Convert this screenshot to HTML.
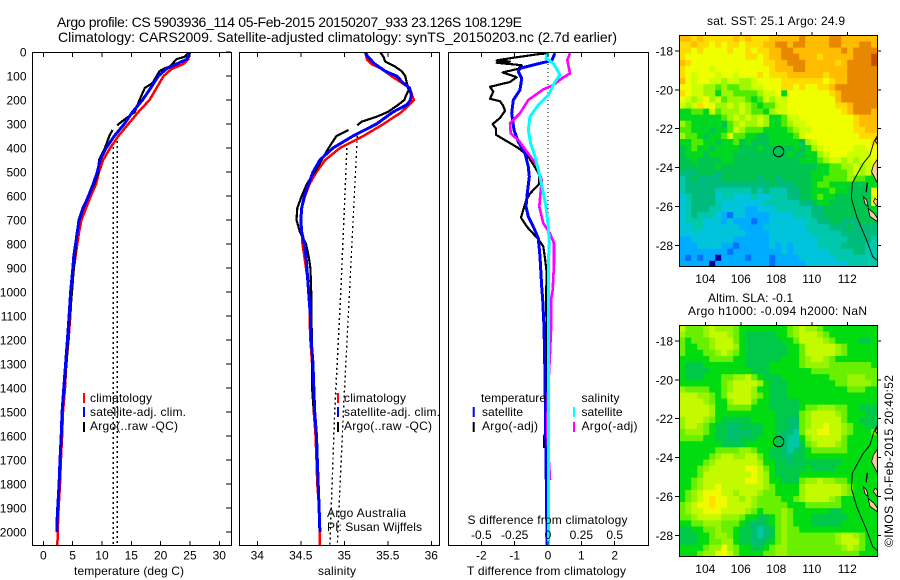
<!DOCTYPE html>
<html lang="en">
<head>
<meta charset="utf-8">
<title>Argo profile</title>
<style>
html,body{margin:0;padding:0;background:#fff;}
svg{display:block;font-family:"Liberation Sans",sans-serif;font-size:12px;fill:#000;}
</style>
</head>
<body>
<svg id="fig" width="900" height="580" viewBox="0 0 900 580" xmlns="http://www.w3.org/2000/svg">
<defs>
<clipPath id="c1"><rect x="32" y="52" width="199" height="493"/></clipPath>
<clipPath id="c2"><rect x="239" y="52" width="200" height="493"/></clipPath>
<clipPath id="c3"><rect x="448" y="52" width="200" height="493"/></clipPath>
<clipPath id="m1"><rect x="679" y="35" width="198" height="232"/></clipPath>
<clipPath id="m2"><rect x="679" y="325" width="198" height="232"/></clipPath>
</defs>
<g id="plots"></g>
<g id="labels">
<text x="57" y="27" font-size="14" textLength="465" lengthAdjust="spacing">Argo profile: CS 5903936_114 05-Feb-2015 20150207_933 23.126S 108.129E</text>
<text x="58" y="42" font-size="14" textLength="559" lengthAdjust="spacing">Climatology: CARS2009. Satellite-adjusted climatology: synTS_20150203.nc (2.7d earlier)</text>
<text x="74" y="575" textLength="110">temperature (deg C)</text>
<text x="318" y="575" textLength="38">salinity</text>
<text x="467" y="575" textLength="159">T difference from climatology</text>
<text x="467.5" y="524" textLength="160">S difference from climatology</text>
<text x="90" y="402" textLength="62">climatology</text>
<text x="90" y="416" textLength="96">satellite-adj. clim.</text>
<text x="90" y="430" textLength="88">Argo(..raw -QC)</text>
<text x="344" y="402" textLength="62">climatology</text>
<text x="344" y="416" textLength="96">satellite-adj. clim.</text>
<text x="344" y="430" textLength="88">Argo(..raw -QC)</text>
<text x="327" y="517" textLength="79">Argo Australia</text>
<text x="327" y="531" textLength="95">PI: Susan Wijffels</text>
<text x="481" y="402" textLength="65">temperature</text>
<text x="482" y="416" textLength="41">satellite</text>
<text x="482" y="430" textLength="56">Argo(-adj)</text>
<text x="581.5" y="402" textLength="38">salinity</text>
<text x="581.5" y="416" textLength="41">satellite</text>
<text x="581.5" y="430" textLength="56">Argo(-adj)</text>
<text x="707" y="25" textLength="138">sat. SST: 25.1 Argo: 24.9</text>
<text x="708" y="302" textLength="85">Altim. SLA: -0.1</text>
<text x="688" y="315" textLength="179">Argo h1000: -0.094 h2000: NaN</text>
<text transform="translate(893,547) rotate(-90)" textLength="172">©IMOS 10-Feb-2015 20:40:52</text>
</g>
</svg>
<script>
// Depth axis ticks and panel tick labels
const depthTicks = [0,100,200,300,400,500,600,700,800,900,1000,1100,1200,1300,1400,1500,1600,1700,1800,1900,2000];
const tempTicks = [0,5,10,15,20,25,30];
const salTicks = [34,34.5,35,35.5,36];
const tDiffTicks = [-2,-1,0,1,2];
const sDiffTicks = [-0.5,-0.25,0,0.25,0.5];
const lonTicks = [104,106,108,110,112];
const latTicks = [-18,-20,-22,-24,-26,-28];

// Temperature panel
const climDepth = [0,30,50,70,100,150,200,250,300,350,400,450,500,550,600,650,700,750,800,850,900,1000,1100,1200,1300,1400,1500,1600,1700,1800,1900,2000,2055];
const climTemp = [25,24.7,23.9,21.9,20.5,19.3,18.1,16.2,14.5,12.8,11.4,10.2,9.5,9,8.1,7.3,6.5,6.1,5.8,5.5,5.2,4.8,4.6,4.3,3.9,3.7,3.35,3.2,3,2.85,2.6,2.45,2.4];
const satTDepth = [0,30,50,70,100,150,200,250,300,350,400,450,500,550,600,650,700,750,800,850,900,1000,1100,1200,1300,1400,1500,1600,1700,1800,1900,1950,2000];
const satTemp = [24.9,24.5,22.7,21,19.6,18.3,16.9,15.2,13.8,12.1,10.7,9.7,9.2,8.5,7.7,6.8,6.1,5.8,5.5,5.2,5.05,4.65,4.4,4.1,3.8,3.5,3.2,3.05,2.85,2.7,2.45,2.35,2.35];
const argoTDepth = [0,20,30,60,70,80,130,150,200,250,280,305,null,325,350,400,450,500,550,600,650,700,750,800,900,1000,1100,1200,1300,1400,1500,1650];
const argoTemp = [24.9,24.1,22.7,21.6,20.5,19.8,18.6,17.3,16.4,15.6,13.9,12.6,null,11.8,11.25,10.5,9.5,9.4,8.7,7.7,6.7,6,5.8,5.6,5.2,4.9,4.5,4.25,3.95,3.6,3.25,2.95];
const isoDepth = [375,2055];
const tDotA = [11.9,11.9];
const isoDepthB = [350,2055];
const tDotB = [12.6,12.6];

// Salinity panel
const climSal = [35.24,35.26,35.31,35.43,35.54,35.75,35.8,35.66,35.45,35.22,34.95,34.78,34.68,34.6,34.55,34.51,34.5,34.51,34.52,34.54,34.56,34.6,34.6,34.61,34.63,34.64,34.65,34.67,34.68,34.69,34.71,34.72,34.72];
const satSDepth = [0,20,50,80,100,130,150,180,200,220,250,300,350,400,450,500,550,600,650,700,750,800,850,900,1000,1100,1200,1300,1400,1500,1600,1700,1800,1900,2000];
const satSal = [35.24,35.27,35.35,35.47,35.6,35.68,35.75,35.77,35.76,35.72,35.56,35.37,35.1,34.87,34.72,34.64,34.59,34.54,34.51,34.5,34.51,34.54,34.56,34.57,34.59,34.61,34.62,34.64,34.65,34.66,34.68,34.69,34.7,34.71,34.72];
const argoSDepth = [0,20,40,60,80,100,130,160,180,200,220,250,270,290,305,null,325,350,400,450,500,550,600,650,700,750,800,850,900,1000,1100,1200,1300,1400,1500];
const argoSal = [35.41,35.45,35.47,35.58,35.66,35.7,35.72,35.74,35.71,35.69,35.62,35.5,35.37,35.2,35.15,null,35.05,34.91,34.82,34.74,34.66,34.57,34.51,34.46,34.45,34.49,34.56,34.59,34.61,34.62,34.62,34.63,34.63,34.63,34.65];
const sDotDepthA = [400,1000,1500,2055];
const sDotA = [35.03,34.96,34.89,34.835];
const sDotDepthB = [350,1000,1500,2055];
const sDotB = [35.15,35.06,34.99,34.92];

// Difference panel
const dArgoTDepth = [5,10,25,35,40,45,55,70,85,105,125,145,165,195,205,225,245,275,300,320,345,400,430,480,510,550,590,620,690,730,780,810,860,920,1030,1172,1580,1600,1650];
const dArgoT = [0,-0.34,-1.09,-1.54,-1.14,-1.54,-0.79,-0.89,-1.36,-0.94,-1.14,-1.74,-1.64,-1.74,-1.44,-1.34,-1.29,-1.44,-1.66,-1.56,-1.56,-0.89,-0.62,-0.39,-0.27,-0.27,-0.54,-0.66,-0.81,-0.62,-0.29,-0.14,-0.09,-0.04,-0.06,-0.04,-0.06,-0.11,-0.11];
const dSatTDepth = [5,36,47,68,82,110,158,200,255,325,374,422,478,519,589,644,686,728,776,853,978,1033,1144,1352,1700,1922,2055];
const dSatT = [0.21,0.11,-0.24,-0.84,-0.89,-0.79,-0.84,-1.04,-1.09,-1.02,-0.89,-0.69,-0.59,-0.56,-0.62,-0.66,-0.59,-0.44,-0.29,-0.24,-0.19,-0.16,-0.12,-0.09,-0.06,-0.04,-0.03];
const dSatSDepth = [5,26,47,75,96,124,179,221,269,325,381,436,506,575,644,728,797,881,1033,2055];
const dSatS = [0.0025,-0.015,0.04,0.07,0.09,0.0525,0.0025,-0.0725,-0.135,-0.1475,-0.13,-0.0975,-0.065,-0.04,-0.015,0.0025,0.01,0.0025,0.0025,0.0025];
const dArgoSDepth = [5,33,89,110,138,156,200,255,297,339,367,422,471,533,644,714,756,797,881,992,1033,1158,1255,1450,1589,1783];
const dArgoS = [0.165,0.145,0.165,0.1025,0.04,-0.035,-0.1475,-0.21,-0.285,-0.28,-0.2225,-0.15,-0.085,-0.0475,-0.065,-0.035,0.015,0.045,0.045,0.035,0.0225,0.0225,0.015,-0.0025,-0.005,0.015];
const zeroDepth = [0,2055];
const zeroLine = [0,0];

// Map value levels: one character per cell, north to south, west to east
const sstRows = [
"ddcdcccccdcdcccdddddeddddeedddddd",
"ccdccbcbccbcccddeedeeddddeedddeed",
"ccbcbbbbcbbcbccddeeddddddddedeeee",
"cbbbbbbbbbbccbcddeeedddcdddddeeef",
"dcbbbbbbbbbbbbccddeeedddddcdeeeef",
"cbbbbabbbbbbbbbcdddeedddddddeeeee",
"cbabbbabbabbbcbcccddddddcdddeeeee",
"dbabbaa9aa99abbbbcccccccbcddeeeee",
"bbaa99898899aabbbccbcbbccdeeeeeee",
"cbaa9979988889aab7bbbbbbbcdeeeeee",
"ba9ab9a8999878a9aabbbbbbbbdeeeeee",
"a9acbb99a9a98788aabbbbbbbbccdeeee",
"77887a8999a98879aabbbbbbbbbcdeeed",
"777777789a9a9a9778aabbbbbbbbbcddd",
"9877777689a99a97789aabbbbbbbbcddd",
"887776778a9888777789aabbbbbbbccdd",
"98876778a88776677778abbbbbbbbbccc",
"7788776778676667777769abbbbbbbbbc",
"67877677776667666667679abbbbbaabb",
"677767777666666666766779abbbaaaab",
"6676666776666666666677789aa9a9aab",
"66666676666666666666666778899a9aa",
"55566656666666666666667778889a9a7",
"456555566666656656666677888898877",
"455555555555555655566678877776677",
"45555544444454544455667778776666b",
"34555534433343344455667877666666b",
"34555543333333444444556776666666b",
"345554433332233344444455666666667",
"345444321332222333344455666666666",
"344433323222122333333445566555666",
"334433333322223333333444455565555",
"333333333332222333333344444555555",
"223333333222222333333334444455554",
"222333322122222323233334444555544",
"222222221222222223233333344445544",
"212122022221222122223333334444444",
"222220222222222122222333333344444"
];
const slaRows = [
"a8889a99987777777789a998777777777",
"98889aaa987666667789aaa9877777777",
"878889aaa87666666778aaaa987777667",
"877889aaa976666666778aaaaa9877777",
"8777889a9876666666778aaaaa9877777",
"777778888776666667778 9aa987777777",
"766677777776666777778999988888887",
"766667777777666777777788888888888",
"76667778899a87666777777778889998",
"777777789aaaa97666777777778899998",
"988887789aaa977666777777777788877",
"aaa99878aaaa987666777777777777777",
"aaaa98779aaa877666667777777777777",
"aaaaa97788887776666678899988 77666",
"aaaaa977777777776666 89aaaa9877766",
"9aaa987666667777665589aaaaa877666",
"9aa9876655666677665589aabaa987766",
"89998766555566776554 8aabbaa987778",
"88887766556667776544 79aaaaa877777",
"77777776666777776544 689aaa9877777",
"777777888899877665456788888877777",
"7777789aa99aa87665566777777777777",
"777789aaaaaaa97766566666666777777",
"77789aaaaaabba8766666766667777777",
"7778aaaaaaaaba9766667777777777777",
"7789aaaaaaabba977666899a998877777",
"7789aabaaaaaaa9877779aaaaaa987777",
"789abbbaa9aaa98877779aaaaaa987777",
"789abcbbaa9a98888778 9aaaa9877777",
"89abbcbbaaaa98888877 788888877777",
"89aabbbaaaa9878889877777766777777",
"889aaaa999877667898777666666 77777",
"7788999888765567898777666667 77777",
"667788988766545689887777777777777",
"666778998766545689888888889aa9877",
"666778899766556789888888889aaa877",
"7777899b98776678998888888889a9877",
"777899bba877778899888888888888777"
].map(r => r.split(" ").join(""));
const sstPalette = {"0":"#0000a0","1":"#0070ff","2":"#00acff","3":"#00c4dc","4":"#00c8ac","5":"#00bc7c","6":"#00c450","7":"#00d820","8":"#50ec00","9":"#a0f800","a":"#ccff00","b":"#f0ff00","c":"#ffdc00","d":"#ffbc00","e":"#e88800","f":"#c85000"};
const slaPalette = {"0":"#0000a0","1":"#0070ff","2":"#00acff","3":"#00c4dc","4":"#00c8a0","5":"#00c070","6":"#00c848","7":"#00dc10","8":"#68f000","9":"#98f400","a":"#c4fa00","b":"#f0fa00","c":"#ffe000","d":"#ffbc00","e":"#e88800","f":"#c85000"};

// Geography
const shelfLon = [113.69,113.5,113.28,112.9,112.53,112.28,112.23,112.53,113.09,113.43,113.69];
const shelfLat = [-22.37,-22.67,-23.35,-23.78,-24.38,-24.81,-25.58,-26.53,-27.73,-28.58,-28.79];
const landLons = [[113.69,113.47,113.37,113.65,113.69],[113.69,113.56,113.69],[113.56,113.69,113.69,113.47],[112.9,113.09,113.18,113],[113.18,113.5,113.69,113.69,113.28]];
const landLats = [[-23.57,-23.87,-24.21,-24.72,-24.78],[-22.49,-22.61,-22.79],[-25.58,-25.67,-26.01,-25.75],[-25.5,-25.67,-26.01,-25.87],[-26.1,-26.35,-26.6,-26.78,-26.52]];
const sliverLon = [113.09,113.18,113.09,113.03];
const sliverLat = [-24.78,-24.78,-25.29,-25.24];
const floatLon = [108.129];
const floatLat = [-23.126];

const NS = "http://www.w3.org/2000/svg";
const plots = document.getElementById("plots");
function mk(parent, tag, attrs, name, txt) {
  const e = document.createElementNS(NS, tag);
  for (const k in attrs) e.setAttribute(k, attrs[k]);
  
  
  if (txt !== undefined) e.textContent = txt;
  parent.appendChild(e);
  return e;
}
const yDepth = d => 52 + d * 0.24;
const xTemp = t => 43.3 + t * 5.867;
const xSal = s => 257.3 + (s - 34) * 87;
const xTDiff = t => 548 + t * 33.33;
const xSDiff = s => 548 + s * 133.33;
const xLon = lon => 705.3 + (lon - 104) * 17.75;
const yLat = (lat, top) => top + 16 + (-18 - lat) * 19.43;

function profile(parent, depths, vals, xf, color, w, name, dash) {
  let seg = [];
  const flush = () => {
    if (seg.length > 1) {
      const a = {points: seg.join(" "), fill: "none", stroke: color, "stroke-width": w, "shape-rendering": "crispEdges", "stroke-linejoin": "round"};
      if (dash) a["stroke-dasharray"] = dash;
      mk(parent, "polyline", a, name);
    }
    seg = [];
  };
  depths.forEach((d, i) => {
    if (d === null) flush();
    else seg.push(xf(vals[i]).toFixed(1) + "," + yDepth(d).toFixed(1));
  });
  flush();
}
function frame(x, y, w, h, name) {
  mk(plots, "rect", {x: x, y: y, width: w, height: h, fill: "none", stroke: "#000", "stroke-width": 1.2, "shape-rendering": "crispEdges"}, name);
}
function vtick(x, y1, y2, name) {
  mk(plots, "line", {x1: x, x2: x, y1: y1, y2: y2, stroke: "#000", "stroke-width": 1, "shape-rendering": "crispEdges"}, name);
}
function htick(y, x1, x2, name) {
  mk(plots, "line", {x1: x1, x2: x2, y1: y, y2: y, stroke: "#000", "stroke-width": 1, "shape-rendering": "crispEdges"}, name);
}
function label(x, y, anchor, t, name) {
  mk(plots, "text", {x: x, y: y, "text-anchor": anchor}, name, t);
}

// Temperature panel
const g1 = mk(plots, "g", {"clip-path": "url(#c1)"}, "temperature-series");
profile(g1, isoDepth, tDotA, xTemp, "#000", 1.6, "temp-dotted-a", "2 3");
profile(g1, isoDepthB, tDotB, xTemp, "#000", 1.6, "temp-dotted-b", "2 3");
profile(g1, climDepth, climTemp, xTemp, "#ff0000", 2.5, "climatology-temperature-line");
profile(g1, argoTDepth, argoTemp, xTemp, "#000", 2.2, "argo-temperature-line");
profile(g1, satTDepth, satTemp, xTemp, "#0000ff", 3, "satellite-temperature-line");
frame(32.5, 52.5, 199, 493, "temperature-panel-frame");
depthTicks.forEach(d => {
  htick(yDepth(d), 226, 231, "depth-tick");
  label(26.5, yDepth(d) + 4.5, "end", String(d), "depth-tick-label");
});
tempTicks.forEach(t => {
  vtick(xTemp(t), 52, 57, "temperature-top-tick");
  vtick(xTemp(t), 541, 545, "temperature-bottom-tick");
  label(xTemp(t), 559.5, "middle", String(t), "temperature-tick-label");
});

// Salinity panel
const g2 = mk(plots, "g", {"clip-path": "url(#c2)"}, "salinity-series");
profile(g2, sDotDepthA, sDotA, xSal, "#000", 1.4, "sal-dotted-a", "2 3");
profile(g2, sDotDepthB, sDotB, xSal, "#000", 1.4, "sal-dotted-b", "2 3");
profile(g2, climDepth, climSal, xSal, "#ff0000", 2.5, "climatology-salinity-line");
profile(g2, argoSDepth, argoSal, xSal, "#000", 2.2, "argo-salinity-line");
profile(g2, satSDepth, satSal, xSal, "#0000ff", 3, "satellite-salinity-line");
frame(239.5, 52.5, 200, 493, "salinity-panel-frame");
salTicks.forEach(s => {
  vtick(xSal(s), 52, 57, "salinity-top-tick");
  vtick(xSal(s), 541, 545, "salinity-bottom-tick");
  label(xSal(s), 559.5, "middle", String(s), "salinity-tick-label");
});

// Difference panel
const g3 = mk(plots, "g", {"clip-path": "url(#c3)"}, "difference-series");
profile(g3, zeroDepth, zeroLine, xTDiff, "#000", 1, "zero-dotted-line", "1 3");
profile(g3, dArgoTDepth, dArgoT, xTDiff, "#000", 2.2, "argo-t-difference-line");
profile(g3, dSatTDepth, dSatT, xTDiff, "#0000ff", 3, "satellite-t-difference-line");
profile(g3, dArgoSDepth, dArgoS, xSDiff, "#ff00ff", 2.6, "argo-s-difference-line");
profile(g3, dSatSDepth, dSatS, xSDiff, "#00ffff", 3, "satellite-s-difference-line");
frame(448.5, 52.5, 200, 493, "difference-panel-frame");
tDiffTicks.forEach(t => {
  vtick(xTDiff(t), 52, 57, "t-difference-top-tick");
  vtick(xTDiff(t), 541, 545, "t-difference-bottom-tick");
  label(xTDiff(t), 559.5, "middle", String(t), "t-difference-tick-label");
});
sDiffTicks.forEach(s => {
  label(xSDiff(s), 539, "middle", String(s), "s-difference-tick-label");
});

// Legend bars
const legendBars = [[84,393,"#ff0000"],[84,407,"#0000ff"],[84,422,"#000"],[338,393,"#ff0000"],[338,407,"#0000ff"],[338,422,"#000"],[473.7,407,"#0000ff"],[473.7,422,"#000"],[574,407,"#00ffff"],[574,422,"#ff00ff"]];
legendBars.forEach(b => {
  mk(plots, "rect", {x: b[0] - 1, y: b[1], width: 2, height: 10, fill: b[2]}, "legend-swatch");
});

// Maps
function map(rows, palette, top, clip, name) {
  const g = mk(plots, "g", {"clip-path": "url(#" + clip + ")"}, name + "-cells");
  const dLon = 0.338, dLat = 0.3135, lon0 = 102.53, lat0 = -17.2;
  rows.forEach((row, j) => {
    for (let i = 0; i < 33; i++) {
      const ch = row[Math.min(i, row.length - 1)];
      const lon = lon0 + i * dLon, lat = lat0 - j * dLat;
      const x = xLon(lon), y = yLat(lat, top);
      mk(g, "rect", {x: x.toFixed(1), y: y.toFixed(1), width: (dLon * 17.75 + 0.6).toFixed(1), height: (dLat * 19.43 + 0.6).toFixed(1), fill: palette[ch]}, "map-cell");
    }
  });
  landLons.forEach((lons, k) => {
    const pts = lons.map((l, i) => xLon(l).toFixed(1) + "," + yLat(landLats[k][i], top).toFixed(1)).join(" ");
    mk(g, "polygon", {points: pts, fill: "#ffcc99", stroke: "#000", "stroke-width": 0.8}, "land-polygon");
  });
  const sl = sliverLon.map((l, i) => xLon(l).toFixed(1) + "," + yLat(sliverLat[i], top).toFixed(1)).join(" ");
  mk(g, "polygon", {points: sl, fill: "#000"}, "coast-sliver");
  const pts = shelfLon.map((l, i) => xLon(l).toFixed(1) + "," + yLat(shelfLat[i], top).toFixed(1)).join(" ");
  mk(g, "polyline", {points: pts, fill: "none", stroke: "#000", "stroke-width": 0.9}, "shelf-contour");
  mk(g, "circle", {cx: xLon(floatLon[0]), cy: yLat(floatLat[0], top) + 1, r: 5.2, fill: "none", stroke: "#000", "stroke-width": 1}, "float-position-marker");
  frame(679.5, top + 0.5, 198, 231, name + "-frame");
  lonTicks.forEach(l => {
    vtick(xLon(l), top - 3, top, name + "-top-tick");
    label(xLon(l), top + 248, "middle", String(l), name + "-lon-label");
  });
  latTicks.forEach(l => {
    htick(yLat(l, top), 675, 679, name + "-left-tick");
    htick(yLat(l, top), 877, 881, name + "-right-tick");
    label(673, yLat(l, top) + 4.5, "end", String(l), name + "-lat-label");
  });
}
map(sstRows, sstPalette, 35, "m1", "sst-map");
map(slaRows, slaPalette, 325, "m2", "sla-map");
</script>
</body>
</html>
